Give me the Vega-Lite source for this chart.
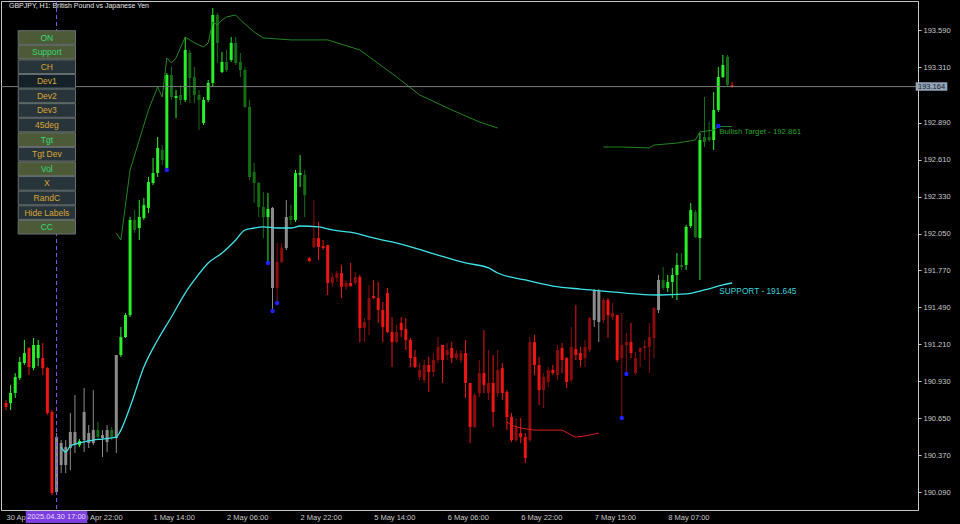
{
  "$schema": "https://vega.github.io/schema/vega-lite/v6.json",
  "width": 917,
  "height": 509,
  "autosize": "none",
  "padding": {"left": 1, "top": 1, "right": 42, "bottom": 14},
  "background": "#000000",
  "config": {"view": {"stroke": "#c8c8c8", "fill": "#000000", "strokeWidth": 1}, "font": "Liberation Sans"},
  "datasets": {
    "candles": [
      {"i":0,"t":"R","o":190.765,"h":190.788,"l":190.712,"c":190.735},
      {"i":1,"t":"G","o":190.765,"h":190.901,"l":190.712,"c":190.841},
      {"i":2,"t":"G","o":190.841,"h":190.992,"l":190.803,"c":190.962},
      {"i":3,"t":"G","o":190.955,"h":191.114,"l":190.939,"c":191.076},
      {"i":4,"t":"G","o":191.068,"h":191.243,"l":191.053,"c":191.144},
      {"i":5,"t":"R","o":191.182,"h":191.190,"l":190.977,"c":191.038},
      {"i":6,"t":"G","o":191.030,"h":191.258,"l":191.015,"c":191.205},
      {"i":7,"t":"G","o":191.106,"h":191.243,"l":191.045,"c":191.205},
      {"i":8,"t":"R","o":191.106,"h":191.220,"l":190.977,"c":191.030},
      {"i":9,"t":"R","o":191.030,"h":191.038,"l":190.674,"c":190.689},
      {"i":10,"t":"R","o":190.697,"h":190.712,"l":190.067,"c":190.082},
      {"i":11,"t":"N","o":190.090,"h":190.537,"l":190.067,"c":190.507},
      {"i":12,"t":"N","o":190.462,"h":190.484,"l":190.234,"c":190.295},
      {"i":13,"t":"N","o":190.431,"h":190.484,"l":190.234,"c":190.295},
      {"i":14,"t":"N","o":190.424,"h":190.689,"l":190.257,"c":190.545},
      {"i":15,"t":"N","o":190.446,"h":190.826,"l":190.386,"c":190.545},
      {"i":16,"t":"G","o":190.446,"h":190.492,"l":190.431,"c":190.477},
      {"i":17,"t":"N","o":190.484,"h":190.879,"l":190.393,"c":190.697},
      {"i":18,"t":"N","o":190.537,"h":190.598,"l":190.424,"c":190.462},
      {"i":19,"t":"N","o":190.462,"h":190.863,"l":190.446,"c":190.560},
      {"i":20,"t":"g","o":190.560,"h":190.621,"l":190.484,"c":190.507},
      {"i":21,"t":"N","o":190.499,"h":190.560,"l":190.355,"c":190.522},
      {"i":22,"t":"N","o":190.469,"h":190.598,"l":190.393,"c":190.560},
      {"i":23,"t":"g","o":190.560,"h":190.583,"l":190.484,"c":190.507},
      {"i":24,"t":"N","o":190.499,"h":191.129,"l":190.386,"c":191.129},
      {"i":25,"t":"G","o":191.129,"h":191.341,"l":191.114,"c":191.265},
      {"i":26,"t":"G","o":191.265,"h":191.447,"l":191.258,"c":191.432},
      {"i":27,"t":"G","o":191.432,"h":192.175,"l":191.417,"c":192.153},
      {"i":28,"t":"g","o":192.153,"h":192.229,"l":192.054,"c":192.077},
      {"i":29,"t":"G","o":192.092,"h":192.304,"l":192.001,"c":192.175},
      {"i":30,"t":"G","o":192.168,"h":192.319,"l":192.153,"c":192.266},
      {"i":31,"t":"G","o":192.244,"h":192.479,"l":192.206,"c":192.441},
      {"i":32,"t":"G","o":192.433,"h":192.623,"l":192.418,"c":192.509},
      {"i":33,"t":"G","o":192.509,"h":192.782,"l":192.479,"c":192.699},
      {"i":34,"t":"g","o":192.684,"h":192.721,"l":192.570,"c":192.608},
      {"i":35,"t":"G","o":192.547,"h":193.267,"l":192.532,"c":193.252},
      {"i":36,"t":"g","o":193.252,"h":193.313,"l":193.063,"c":193.085},
      {"i":37,"t":"G","o":193.078,"h":193.138,"l":192.926,"c":193.093},
      {"i":38,"t":"g","o":193.101,"h":193.176,"l":193.025,"c":193.063},
      {"i":39,"t":"G","o":193.063,"h":193.540,"l":193.047,"c":193.442},
      {"i":40,"t":"g","o":193.419,"h":193.442,"l":193.040,"c":193.229},
      {"i":41,"t":"g","o":193.237,"h":193.313,"l":193.040,"c":193.101},
      {"i":42,"t":"g","o":193.101,"h":193.138,"l":192.835,"c":193.063},
      {"i":43,"t":"G","o":192.888,"h":193.085,"l":192.873,"c":193.063},
      {"i":44,"t":"G","o":193.063,"h":193.214,"l":193.047,"c":193.192},
      {"i":45,"t":"G","o":193.192,"h":193.760,"l":193.161,"c":193.707},
      {"i":46,"t":"g","o":193.707,"h":193.722,"l":193.343,"c":193.495},
      {"i":47,"t":"G","o":193.275,"h":193.427,"l":193.267,"c":193.351},
      {"i":48,"t":"g","o":193.351,"h":193.442,"l":193.275,"c":193.290},
      {"i":49,"t":"G","o":193.366,"h":193.540,"l":193.351,"c":193.495},
      {"i":50,"t":"g","o":193.495,"h":193.540,"l":193.328,"c":193.343},
      {"i":51,"t":"g","o":193.351,"h":193.419,"l":193.237,"c":193.290},
      {"i":52,"t":"g","o":193.290,"h":193.313,"l":193.002,"c":193.010},
      {"i":53,"t":"g","o":193.010,"h":193.063,"l":192.456,"c":192.479},
      {"i":54,"t":"g","o":192.517,"h":192.585,"l":192.282,"c":192.433},
      {"i":55,"t":"g","o":192.433,"h":192.441,"l":192.175,"c":192.251},
      {"i":56,"t":"g","o":192.251,"h":192.365,"l":192.016,"c":192.175},
      {"i":57,"t":"G","o":192.175,"h":192.357,"l":191.834,"c":192.236},
      {"i":58,"t":"N","o":192.244,"h":192.251,"l":191.455,"c":191.637},
      {"i":59,"t":"r","o":191.637,"h":191.978,"l":191.523,"c":191.834},
      {"i":60,"t":"r","o":191.834,"h":191.978,"l":191.827,"c":191.940},
      {"i":61,"t":"N","o":191.940,"h":192.304,"l":191.925,"c":192.175},
      {"i":62,"t":"g","o":192.183,"h":192.266,"l":192.115,"c":192.153},
      {"i":63,"t":"G","o":192.153,"h":192.532,"l":192.138,"c":192.509},
      {"i":64,"t":"G","o":192.494,"h":192.646,"l":192.403,"c":192.509},
      {"i":65,"t":"g","o":192.494,"h":192.532,"l":192.175,"c":192.342},
      {"i":66,"t":"R","o":191.864,"h":191.872,"l":191.834,"c":191.842},
      {"i":67,"t":"r","o":191.948,"h":192.304,"l":191.940,"c":192.016},
      {"i":68,"t":"R","o":192.016,"h":192.138,"l":191.849,"c":191.948},
      {"i":69,"t":"R","o":191.955,"h":192.001,"l":191.925,"c":191.940},
      {"i":70,"t":"R","o":191.963,"h":191.963,"l":191.584,"c":191.675},
      {"i":71,"t":"r","o":191.675,"h":191.751,"l":191.645,"c":191.720},
      {"i":72,"t":"r","o":191.713,"h":191.766,"l":191.683,"c":191.751},
      {"i":73,"t":"R","o":191.751,"h":191.812,"l":191.561,"c":191.645},
      {"i":74,"t":"r","o":191.645,"h":191.698,"l":191.622,"c":191.675},
      {"i":75,"t":"R","o":191.675,"h":191.827,"l":191.645,"c":191.652},
      {"i":76,"t":"r","o":191.675,"h":191.758,"l":191.660,"c":191.720},
      {"i":77,"t":"R","o":191.720,"h":191.736,"l":191.227,"c":191.334},
      {"i":78,"t":"r","o":191.334,"h":191.410,"l":191.227,"c":191.379},
      {"i":79,"t":"r","o":191.394,"h":191.660,"l":191.281,"c":191.561},
      {"i":80,"t":"R","o":191.576,"h":191.698,"l":191.554,"c":191.561},
      {"i":81,"t":"R","o":191.561,"h":191.683,"l":191.372,"c":191.470},
      {"i":82,"t":"R","o":191.470,"h":191.531,"l":191.227,"c":191.341},
      {"i":83,"t":"R","o":191.599,"h":191.637,"l":191.296,"c":191.303},
      {"i":84,"t":"R","o":191.303,"h":191.417,"l":191.038,"c":191.227},
      {"i":85,"t":"r","o":191.227,"h":191.356,"l":191.220,"c":191.303},
      {"i":86,"t":"R","o":191.372,"h":191.417,"l":191.265,"c":191.318},
      {"i":87,"t":"R","o":191.326,"h":191.410,"l":191.167,"c":191.243},
      {"i":88,"t":"R","o":191.243,"h":191.258,"l":191.038,"c":191.106},
      {"i":89,"t":"R","o":191.114,"h":191.167,"l":191.030,"c":191.038},
      {"i":90,"t":"r","o":190.962,"h":191.068,"l":190.939,"c":191.015},
      {"i":91,"t":"r","o":190.939,"h":191.091,"l":190.917,"c":191.053},
      {"i":92,"t":"R","o":191.053,"h":191.114,"l":190.848,"c":191.000},
      {"i":93,"t":"r","o":191.000,"h":191.144,"l":190.962,"c":191.091},
      {"i":94,"t":"r","o":191.091,"h":191.265,"l":191.068,"c":191.190},
      {"i":95,"t":"R","o":191.205,"h":191.205,"l":190.917,"c":191.091},
      {"i":96,"t":"r","o":191.129,"h":191.220,"l":191.091,"c":191.167},
      {"i":97,"t":"R","o":191.182,"h":191.227,"l":191.068,"c":191.106},
      {"i":98,"t":"r","o":191.106,"h":191.167,"l":191.091,"c":191.144},
      {"i":99,"t":"r","o":191.091,"h":191.167,"l":191.068,"c":191.144},
      {"i":100,"t":"R","o":191.144,"h":191.243,"l":190.803,"c":190.917},
      {"i":101,"t":"R","o":190.917,"h":190.917,"l":190.462,"c":190.583},
      {"i":102,"t":"r","o":190.583,"h":190.841,"l":190.575,"c":190.826},
      {"i":103,"t":"r","o":190.841,"h":191.091,"l":190.811,"c":190.992},
      {"i":104,"t":"R","o":190.992,"h":191.318,"l":190.841,"c":190.901},
      {"i":105,"t":"r","o":190.841,"h":191.167,"l":190.788,"c":190.917},
      {"i":106,"t":"R","o":190.917,"h":191.129,"l":190.583,"c":190.697},
      {"i":107,"t":"r","o":190.841,"h":191.167,"l":190.811,"c":191.015},
      {"i":108,"t":"R","o":191.030,"h":191.068,"l":190.788,"c":190.841},
      {"i":109,"t":"R","o":190.848,"h":190.863,"l":190.560,"c":190.659},
      {"i":110,"t":"R","o":190.659,"h":190.689,"l":190.469,"c":190.484},
      {"i":111,"t":"r","o":190.484,"h":190.651,"l":190.469,"c":190.583},
      {"i":112,"t":"R","o":190.537,"h":190.651,"l":190.462,"c":190.507},
      {"i":113,"t":"R","o":190.507,"h":190.537,"l":190.310,"c":190.348},
      {"i":114,"t":"r","o":190.484,"h":191.265,"l":190.469,"c":191.227},
      {"i":115,"t":"R","o":191.227,"h":191.281,"l":190.977,"c":191.053},
      {"i":116,"t":"R","o":191.053,"h":191.114,"l":190.750,"c":190.863},
      {"i":117,"t":"r","o":190.863,"h":190.992,"l":190.727,"c":190.962},
      {"i":118,"t":"r","o":190.924,"h":191.038,"l":190.886,"c":191.015},
      {"i":119,"t":"R","o":191.015,"h":191.053,"l":190.977,"c":190.992},
      {"i":120,"t":"r","o":190.977,"h":191.205,"l":190.939,"c":191.167},
      {"i":121,"t":"R","o":191.182,"h":191.220,"l":190.992,"c":191.091},
      {"i":122,"t":"R","o":191.106,"h":191.114,"l":190.879,"c":190.924},
      {"i":123,"t":"r","o":190.939,"h":191.341,"l":190.924,"c":191.190},
      {"i":124,"t":"R","o":191.174,"h":191.508,"l":191.091,"c":191.129},
      {"i":125,"t":"R","o":191.144,"h":191.190,"l":191.038,"c":191.091},
      {"i":126,"t":"r","o":191.106,"h":191.243,"l":191.038,"c":191.190},
      {"i":127,"t":"r","o":191.167,"h":191.417,"l":191.152,"c":191.410},
      {"i":128,"t":"N","o":191.394,"h":191.629,"l":191.341,"c":191.614},
      {"i":129,"t":"N","o":191.614,"h":191.629,"l":191.227,"c":191.379},
      {"i":130,"t":"r","o":191.394,"h":191.561,"l":191.372,"c":191.546},
      {"i":131,"t":"R","o":191.546,"h":191.561,"l":191.258,"c":191.432},
      {"i":132,"t":"r","o":191.417,"h":191.523,"l":191.394,"c":191.447},
      {"i":133,"t":"R","o":191.432,"h":191.432,"l":191.076,"c":191.091},
      {"i":134,"t":"r","o":191.106,"h":191.447,"l":190.651,"c":191.205},
      {"i":135,"t":"r","o":191.205,"h":191.296,"l":190.992,"c":191.227},
      {"i":136,"t":"R","o":191.227,"h":191.372,"l":191.106,"c":191.144},
      {"i":137,"t":"r","o":190.992,"h":191.152,"l":190.977,"c":191.106},
      {"i":138,"t":"r","o":191.152,"h":191.190,"l":191.038,"c":191.182},
      {"i":139,"t":"r","o":191.182,"h":191.243,"l":191.091,"c":191.197},
      {"i":140,"t":"r","o":191.190,"h":191.372,"l":190.992,"c":191.265},
      {"i":141,"t":"r","o":191.258,"h":191.493,"l":191.106,"c":191.485},
      {"i":142,"t":"N","o":191.470,"h":191.736,"l":191.447,"c":191.698},
      {"i":143,"t":"g","o":191.698,"h":191.796,"l":191.622,"c":191.637},
      {"i":144,"t":"G","o":191.637,"h":191.736,"l":191.607,"c":191.683},
      {"i":145,"t":"G","o":191.683,"h":191.789,"l":191.561,"c":191.736},
      {"i":146,"t":"G","o":191.736,"h":191.902,"l":191.546,"c":191.812},
      {"i":147,"t":"g","o":191.812,"h":191.902,"l":191.774,"c":191.796},
      {"i":148,"t":"G","o":191.812,"h":192.115,"l":191.774,"c":192.100},
      {"i":149,"t":"G","o":192.107,"h":192.282,"l":192.092,"c":192.229},
      {"i":150,"t":"g","o":192.213,"h":192.229,"l":192.016,"c":192.024},
      {"i":151,"t":"G","o":192.016,"h":192.812,"l":191.698,"c":192.759},
      {"i":152,"t":"g","o":192.782,"h":193.085,"l":192.706,"c":192.744},
      {"i":153,"t":"g","o":192.782,"h":192.896,"l":192.744,"c":192.759},
      {"i":154,"t":"G","o":192.759,"h":193.123,"l":192.684,"c":192.987},
      {"i":155,"t":"G","o":192.987,"h":193.313,"l":192.972,"c":193.237},
      {"i":156,"t":"G","o":193.237,"h":193.404,"l":193.229,"c":193.328},
      {"i":157,"t":"g","o":193.389,"h":193.404,"l":193.161,"c":193.176},
      {"i":158,"t":"R","o":193.176,"h":193.199,"l":193.154,"c":193.164}
    ],
    "ma": [
      {"i":12,"v":190.431},{"i":13,"v":190.393},{"i":14,"v":190.439},{"i":16,"v":190.462},
      {"i":19,"v":190.484},{"i":21,"v":190.492},{"i":24,"v":190.507},{"i":25,"v":190.560},
      {"i":27,"v":190.735},{"i":30,"v":191.038},{"i":33,"v":191.243},{"i":36,"v":191.417},
      {"i":39,"v":191.599},{"i":41,"v":191.698},{"i":44,"v":191.827},{"i":47,"v":191.902},
      {"i":50,"v":192.001},{"i":52,"v":192.077},{"i":54,"v":192.092},{"i":56,"v":192.100},
      {"i":59,"v":192.092},{"i":62,"v":192.092},{"i":64,"v":192.107},{"i":68,"v":192.100},
      {"i":71,"v":192.077},{"i":76,"v":192.054},{"i":79,"v":192.024},{"i":84,"v":191.986},
      {"i":89,"v":191.940},{"i":94,"v":191.887},{"i":100,"v":191.827},{"i":105,"v":191.789},
      {"i":107,"v":191.751},{"i":113,"v":191.698},{"i":119,"v":191.652},{"i":125,"v":191.629},
      {"i":130,"v":191.614},{"i":137,"v":191.592},{"i":142,"v":191.584},{"i":148,"v":191.592},
      {"i":152,"v":191.622},{"i":156,"v":191.660},{"i":158,"v":191.675}
    ],
    "upper": [
      {"s":1,"i":24,"v":192.054},{"s":1,"i":25,"v":192.001},{"s":1,"i":26,"v":192.266},{"s":1,"i":27,"v":192.532},
      {"s":1,"i":29,"v":192.759},{"s":1,"i":31,"v":192.987},{"s":1,"i":33,"v":193.161},{"s":1,"i":34,"v":193.085},
      {"s":1,"i":35,"v":193.381},{"s":1,"i":36,"v":193.343},{"s":1,"i":37,"v":193.381},{"s":1,"i":39,"v":193.540},
      {"s":1,"i":41,"v":193.495},{"s":1,"i":43,"v":193.465},{"s":1,"i":44,"v":193.495},{"s":1,"i":45,"v":193.654},
      {"s":1,"i":46,"v":193.631},{"s":1,"i":47,"v":193.669},{"s":1,"i":48,"v":193.692},{"s":1,"i":50,"v":193.707},
      {"s":1,"i":51,"v":193.669},{"s":1,"i":54,"v":193.578},{"s":1,"i":56,"v":193.533},{"s":1,"i":62,"v":193.518},
      {"s":1,"i":70,"v":193.518},{"s":1,"i":77,"v":193.442},{"s":1,"i":85,"v":193.237},{"s":1,"i":90,"v":193.101},
      {"s":1,"i":97,"v":192.987},{"s":1,"i":103,"v":192.896},{"s":1,"i":107,"v":192.850},
      {"s":2,"i":130,"v":192.706},{"s":2,"i":134,"v":192.706},{"s":2,"i":140,"v":192.699},{"s":2,"i":141,"v":192.721},
      {"s":2,"i":146,"v":192.736},{"s":2,"i":150,"v":192.759},{"s":2,"i":151,"v":192.820},{"s":2,"i":154,"v":192.835},
      {"s":2,"i":155,"v":192.861},{"s":2,"i":158,"v":192.861}
    ],
    "lower": [
      {"i":109,"v":190.621},{"i":110,"v":190.598},{"i":112,"v":190.575},{"i":115,"v":190.560},
      {"i":121,"v":190.560},{"i":123,"v":190.522},{"i":124,"v":190.507},{"i":126,"v":190.515},
      {"i":128,"v":190.530},{"i":129,"v":190.537}
    ],
    "signals": [
      {"i":35,"v":192.532},{"i":57,"v":191.827},{"i":58,"v":191.463},{"i":59,"v":191.523},
      {"i":134,"v":190.651},{"i":135,"v":190.985},{"i":155,"v":192.865}
    ],
    "buttons": [
      {"b":"ON","s":"on"},{"b":"Support","s":"on"},{"b":"CH","s":"off"},{"b":"Dev1","s":"sel"},
      {"b":"Dev2","s":"off"},{"b":"Dev3","s":"off"},{"b":"45deg","s":"off"},{"b":"Tgt","s":"on"},
      {"b":"Tgt Dev","s":"off"},{"b":"Vol","s":"on"},{"b":"X","s":"off"},{"b":"RandC","s":"off"},
      {"b":"Hide Labels","s":"off"},{"b":"CC","s":"on"}
    ]
  },
  "layer": [
    {
      "layer": [
        {
          "data": {"name": "candles"},
          "mark": {"type": "rule", "strokeWidth": 1, "clip": true},
          "encoding": {
            "x": {"field": "i", "type": "quantitative", "title": null,
              "scale": {"domain": [0, 197.37], "nice": false, "zero": false},
              "axis": {"orient": "bottom", "values": [0,16,32,48,64,80,96,112,128,144],
                "labelExpr": "['30 Apr 06:00','30 Apr 22:00','1 May 14:00','2 May 06:00','2 May 22:00','5 May 14:00','6 May 06:00','6 May 22:00','7 May 15:00','8 May 07:00'][round(datum.value/16)]",
                "labelAlign": "left", "labelBaseline": "top", "labelPadding": 3, "ticks": false, "domain": false, "grid": false,
                "labelColor": "#c8c8c8", "labelFontSize": 7.5, "labelFont": "Liberation Sans", "labelFlush": false, "labelOverlap": false}},
            "y": {"field": "h", "type": "quantitative", "title": null,
              "scale": {"domain": [189.954, 193.813], "nice": false, "zero": false},
              "axis": {"orient": "right", "values": [190.09,190.23,190.37,190.51,190.65,190.79,190.93,191.07,191.21,191.35,191.49,191.63,191.77,191.91,192.05,192.19,192.33,192.47,192.61,192.75,192.89,193.03,193.31,193.45,193.59,193.73],
                "format": ".3f", "ticks": true, "tickSize": 3, "tickColor": "#c8c8c8", "domain": false, "grid": false,
                "labelColor": "#c8c8c8", "labelFontSize": 7.5, "labelFont": "Liberation Sans", "labelPadding": 2, "labelFlush": false, "labelOverlap": false}},
            "y2": {"field": "l"},
            "color": {"field": "t", "type": "nominal", "legend": null,
              "scale": {"domain": ["G","g","R","r","N"], "range": ["#2af02a","#146c14","#ee1515","#8c0c0c","#8c8c8c"]}}
          }
        },
        {
          "data": {"name": "candles"},
          "mark": {"type": "bar", "size": 3, "clip": true},
          "encoding": {
            "x": {"field": "i", "type": "quantitative", "title": null},
            "y": {"field": "o", "type": "quantitative", "title": null},
            "y2": {"field": "c"},
            "color": {"field": "t", "type": "nominal", "legend": null}
          }
        },
        {
          "data": {"name": "upper"},
          "mark": {"type": "line", "color": "#22861f", "strokeWidth": 1, "clip": true},
          "encoding": {
            "x": {"field": "i", "type": "quantitative", "title": null},
            "y": {"field": "v", "type": "quantitative", "title": null},
            "detail": {"field": "s", "type": "nominal"}
          }
        },
        {
          "data": {"name": "lower"},
          "mark": {"type": "line", "color": "#e01b1b", "strokeWidth": 1, "clip": true},
          "encoding": {
            "x": {"field": "i", "type": "quantitative", "title": null},
            "y": {"field": "v", "type": "quantitative", "title": null}
          }
        },
        {
          "data": {"name": "ma"},
          "mark": {"type": "line", "color": "#3de3e8", "strokeWidth": 1.3, "interpolate": "monotone", "clip": true},
          "encoding": {
            "x": {"field": "i", "type": "quantitative", "title": null},
            "y": {"field": "v", "type": "quantitative", "title": null}
          }
        },
        {
          "data": {"name": "signals"},
          "mark": {"type": "point", "filled": true, "size": 20, "color": "#1f1fff", "opacity": 1},
          "encoding": {
            "x": {"field": "i", "type": "quantitative", "title": null},
            "y": {"field": "v", "type": "quantitative", "title": null}
          }
        },
        {
          "data": {"values": [{"i": 11}]},
          "mark": {"type": "rule", "color": "#8a55ee", "strokeDash": [4, 3], "strokeWidth": 1},
          "encoding": {"x": {"field": "i", "type": "quantitative", "title": null}}
        },
        {
          "data": {"values": [{"p": 193.164}]},
          "mark": {"type": "rule", "color": "#7c7c7c", "strokeWidth": 1},
          "encoding": {"y": {"field": "p", "type": "quantitative", "title": null}}
        },
        {
          "data": {"values": [{"p": 193.164}]},
          "mark": {"type": "rect", "color": "#93a3b8", "clip": false},
          "encoding": {
            "x": {"datum": 197.95, "type": "quantitative"},
            "x2": {"datum": 204.84},
            "y": {"datum": 193.197, "type": "quantitative"},
            "y2": {"datum": 193.133}
          }
        },
        {
          "data": {"values": [{"p": 193.164}]},
          "mark": {"type": "text", "color": "#1b2030", "fontSize": 7.5, "font": "Liberation Sans", "align": "center", "baseline": "middle", "clip": false},
          "encoding": {
            "x": {"datum": 201.4, "type": "quantitative"},
            "y": {"field": "p", "type": "quantitative", "title": null},
            "text": {"field": "p", "type": "quantitative", "format": ".3f"}
          }
        },
        {
          "data": {"values": [{"i": 11, "d": "2025.04.30 17:00"}]},
          "mark": {"type": "rect", "color": "#7b3fe0", "clip": false},
          "encoding": {
            "x": {"datum": 4.3, "type": "quantitative"},
            "x2": {"datum": 17.7},
            "y": {"datum": 189.946, "type": "quantitative"},
            "y2": {"datum": 189.855}
          }
        },
        {
          "data": {"values": [{"i": 11, "d": "2025.04.30 17:00"}]},
          "mark": {"type": "text", "color": "#e4dcff", "fontSize": 7.5, "font": "Liberation Sans", "align": "center", "baseline": "middle", "clip": false},
          "encoding": {
            "x": {"field": "i", "type": "quantitative", "title": null},
            "y": {"datum": 189.900, "type": "quantitative"},
            "text": {"field": "d"}
          }
        },
        {
          "data": {"values": [{"title": "GBPJPY, H1: British Pound vs Japanese Yen"}]},
          "mark": {"type": "text", "color": "#e6e6e6", "fontSize": 7, "font": "Liberation Sans", "align": "left", "baseline": "middle"},
          "encoding": {
            "x": {"datum": 0.65, "type": "quantitative"},
            "y": {"datum": 193.776, "type": "quantitative"},
            "text": {"field": "title"}
          }
        },
        {
          "data": {"values": [{"i": 155, "p": 192.861, "label": "Bullish Target - 192.861"}]},
          "mark": {"type": "text", "color": "#2aa52a", "fontSize": 7.8, "font": "Liberation Sans", "align": "left", "baseline": "middle", "dx": 1, "dy": 5},
          "encoding": {
            "x": {"field": "i", "type": "quantitative", "title": null},
            "y": {"field": "p", "type": "quantitative", "title": null},
            "text": {"field": "label"}
          }
        },
        {
          "data": {"values": [{"i": 155, "p": 191.645, "label": "SUPPORT - 191.645"}]},
          "mark": {"type": "text", "color": "#3fd3dc", "fontSize": 8.3, "font": "Liberation Sans", "align": "left", "baseline": "middle", "dx": 1, "dy": 5},
          "encoding": {
            "x": {"field": "i", "type": "quantitative", "title": null},
            "y": {"field": "p", "type": "quantitative", "title": null},
            "text": {"field": "label"}
          }
        }
      ]
    },
    {
      "data": {"name": "buttons"},
      "layer": [
        {
          "mark": {"type": "rect", "stroke": "#687070", "strokeWidth": 1},
          "encoding": {
            "y": {"field": "b", "type": "nominal", "axis": null, "title": null,
              "scale": {"domain": ["ON","Support","CH","Dev1","Dev2","Dev3","45deg","Tgt","Tgt Dev","Vol","X","RandC","Hide Labels","CC"],
                "range": [29.7, 233], "paddingInner": 0.063, "paddingOuter": 0, "round": false}},
            "x": {"datum": 2.65, "type": "quantitative", "axis": null, "scale": {"domain": [0, 197.37], "nice": false, "zero": false}},
            "x2": {"datum": 15.13},
            "fill": {"field": "s", "type": "nominal", "legend": null,
              "scale": {"domain": ["on","off","sel"], "range": ["#4d5a37","#27353a","#142128"]}}
          }
        },
        {
          "mark": {"type": "text", "fontSize": 8.5, "font": "Liberation Sans", "align": "center", "baseline": "middle"},
          "encoding": {
            "y": {"field": "b", "type": "nominal", "axis": null, "title": null},
            "x": {"datum": 8.89, "type": "quantitative", "axis": null},
            "text": {"field": "b"},
            "color": {"field": "s", "type": "nominal", "legend": null,
              "scale": {"domain": ["on","off","sel"], "range": ["#35d874","#dca436","#dca436"]}}
          }
        }
      ]
    }
  ],
  "resolve": {"scale": {"y": "independent", "color": "independent"}, "axis": {"y": "independent", "x": "independent"}}
}
